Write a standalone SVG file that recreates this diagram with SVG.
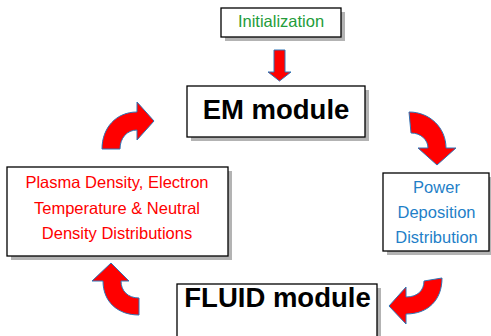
<svg xmlns="http://www.w3.org/2000/svg" width="491" height="336" viewBox="0 0 491 336">
<style>
.box{fill:#fff;stroke:#000;stroke-width:1.3}
.shadow{fill:#b3b3b3}
.arrow{fill:#ff0000;stroke:#2e75b6;stroke-width:1;stroke-linejoin:miter}
.t{font-family:"Liberation Sans",Arial,sans-serif;text-anchor:middle}
.big{font-weight:bold;font-size:27.5px;fill:#000}
</style>
<rect width="491" height="336" fill="#fff"/>
<g id="init">
<rect class="shadow" x="225" y="12" width="120" height="29"/>
<rect class="box" x="221" y="8" width="120" height="29"/>
<text class="t" x="281" y="27" font-size="16.5" fill="#249c3a">Initialization</text>
</g>
<g id="em">
<rect class="shadow" x="191" y="90" width="178" height="51"/>
<rect class="box" x="187" y="86" width="178" height="51"/>
<text class="t big" x="276" y="119">EM module</text>
</g>
<g id="power">
<rect class="shadow" x="387" y="177" width="110" height="78"/>
<rect class="box" x="383" y="173" width="106" height="78"/>
<text class="t" font-size="16.5" fill="#1f7fc8"><tspan x="436.5" y="193">Power</tspan><tspan x="436.5" y="218">Deposition</tspan><tspan x="436.5" y="243">Distribution</tspan></text>
</g>
<g id="fluid">
<rect class="shadow" x="181" y="288" width="200" height="60"/>
<rect class="box" x="177" y="284" width="200" height="60"/>
<text class="t big" x="277.5" y="307" font-size="27">FLUID module</text>
</g>
<g id="plasma">
<rect class="shadow" x="11" y="171" width="221" height="89"/>
<rect class="box" x="7" y="167" width="221" height="89"/>
<text class="t" font-size="16.5" fill="#ff0000"><tspan x="117" y="188">Plasma Density, Electron</tspan><tspan x="117" y="214">Temperature &amp; Neutral</tspan><tspan x="117" y="239">Density Distributions</tspan></text>
</g>
<g id="connectors">
<path class="arrow" d="M274,50 L285,50 L285,72 L291,72 L279.5,81 L268,72 L274,72 Z"/>
<path class="arrow" d="M102,149 C102,128 116,112 137,112 L137,102 L154,121 L137,140 L137,130 C127,130 120,138 120,149 Z"/>
<path class="arrow" d="M409,112 C430,112 446,128 446,148 L456,148 L437,165 L418,148 L428,148 C428,140 421,133 411,133 Z"/>
<path class="arrow" d="M442,278 C442,300 428,314 406,314 L406,324 L389,306 L406,287 L406,297 C418,297 424,290 424,281 Z"/>
<path class="arrow" d="M139,298 L139,315 C118,315 103,302 103,281 L92,281 L111,263 L129,281 L121,281 C121,291 128,298 139,298 Z"/>
</g>
</svg>
